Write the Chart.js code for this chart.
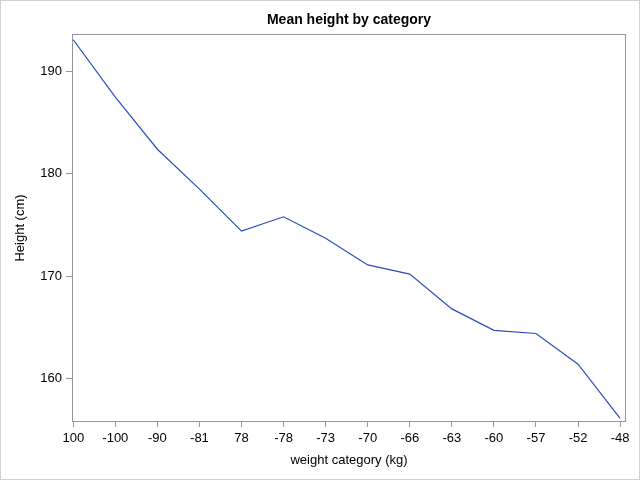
<!DOCTYPE html>
<html>
<head>
<meta charset="utf-8">
<script src="https://cdn.jsdelivr.net/npm/chart.js@4/dist/chart.umd.min.js"></script>
<style>
  html, body { margin: 0; padding: 0; background: #fff; }
  #wrap { width: 638px; height: 478px; border: 1px solid #d0d0d0; }
</style>
</head>
<body>
<div id="wrap"><canvas id="heightChart" width="638" height="478"></canvas></div>
<script>
// weight categories as they appear on the x axis
const categories = ['100', '-100', '-90', '-81', '78', '-78', '-73', '-70', '-66', '-63', '-60', '-57', '-52', '-48'];
// mean height (cm) per category
const meanHeight = [193.1, 187.5, 182.4, 178.5, 174.4, 175.8, 173.7, 171.1, 170.2, 166.8, 164.7, 164.4, 161.4, 156.1];
const yTicks = [160, 170, 180, 190];

const frameColor = '#8e969e';

// box around the plot area + title centred over it
const framePlugin = {
  id: 'frame',
  afterDraw(chart) {
    const { ctx, chartArea: a } = chart;
    ctx.save();
    ctx.strokeStyle = frameColor;
    ctx.lineWidth = 1;
    ctx.strokeRect(a.left + 0.5, a.top + 0.5, a.right - a.left - 1, a.bottom - a.top - 1);
    ctx.fillStyle = '#000';
    ctx.font = 'bold 14px "Liberation Sans", Arial, sans-serif';
    ctx.textAlign = 'center';
    ctx.textBaseline = 'middle';
    ctx.fillText('Mean height by category', (a.left + a.right) / 2, 19);
    ctx.restore();
  }
};

const ctx = document.getElementById('heightChart').getContext('2d');
new Chart(ctx, {
  type: 'line',
  data: {
    datasets: [{
      label: 'Mean height',
      data: meanHeight.map((v, i) => ({ x: i, y: v })),
      borderColor: '#2a4cbc',
      borderWidth: 1.2,
      pointRadius: 0,
      tension: 0,
      fill: false,
    }],
  },
  options: {
    responsive: false,
    animation: false,
    layout: { padding: { top: 33, right: 13, left: 12, bottom: 11 } },
    plugins: { legend: { display: false }, tooltip: { enabled: false } },
    scales: {
      x: {
        type: 'linear',
        min: -0.03,
        max: 13.14,
        afterBuildTicks: (axis) => { axis.ticks = categories.map((_, i) => ({ value: i })); },
        afterFit: (axis) => { axis.height = 46; },
        grid: { drawOnChartArea: false, tickLength: 5, color: '#9a9a9a' },
        border: { display: false },
        ticks: {
          callback: (v) => categories[v],
          color: '#000',
          font: { family: '"Liberation Sans", Arial, sans-serif', size: 13 },
          padding: 4,
          maxRotation: 0,
          autoSkip: false,
        },
        title: {
          display: true,
          text: 'weight category (kg)',
          color: '#000',
          font: { family: '"Liberation Sans", Arial, sans-serif', size: 13 },
          padding: { top: 4, bottom: 0 },
        },
      },
      y: {
        min: 155.75,
        max: 193.66,
        afterBuildTicks: (axis) => { axis.ticks = yTicks.map((v) => ({ value: v })); },
        afterFit: (axis) => { axis.width = 59; },
        grid: { drawOnChartArea: false, tickLength: 6, color: '#9a9a9a' },
        border: { display: false },
        ticks: {
          color: '#000',
          font: { family: '"Liberation Sans", Arial, sans-serif', size: 13 },
          padding: 4,
        },
        title: {
          display: true,
          text: 'Height (cm)',
          color: '#000',
          font: { family: '"Liberation Sans", Arial, sans-serif', size: 13 },
          padding: { top: 0, bottom: 4 },
        },
      },
    },
  },
  plugins: [framePlugin],
});
</script>
</body>
</html>
